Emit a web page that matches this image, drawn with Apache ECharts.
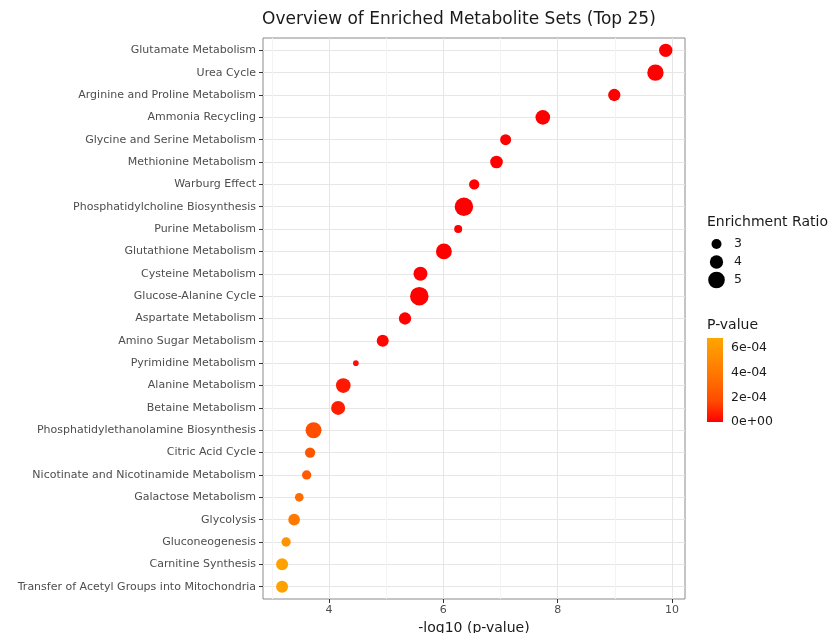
<!DOCTYPE html>
<html>
<head>
<meta charset="utf-8">
<script src="https://cdn.jsdelivr.net/npm/echarts@6/dist/echarts.min.js"></script>
<style>
html, body { margin: 0; padding: 0; background: #fff; }
#chart { width: 834px; height: 633px; }
</style>
</head>
<body>
<div id="chart"></div>
<script>
// metabolite sets, top to bottom
const pathways = [
  'Glutamate Metabolism',
  'Urea Cycle',
  'Arginine and Proline Metabolism',
  'Ammonia Recycling',
  'Glycine and Serine Metabolism',
  'Methionine Metabolism',
  'Warburg Effect',
  'Phosphatidylcholine Biosynthesis',
  'Purine Metabolism',
  'Glutathione Metabolism',
  'Cysteine Metabolism',
  'Glucose-Alanine Cycle',
  'Aspartate Metabolism',
  'Amino Sugar Metabolism',
  'Pyrimidine Metabolism',
  'Alanine Metabolism',
  'Betaine Metabolism',
  'Phosphatidylethanolamine Biosynthesis',
  'Citric Acid Cycle',
  'Nicotinate and Nicotinamide Metabolism',
  'Galactose Metabolism',
  'Glycolysis',
  'Gluconeogenesis',
  'Carnitine Synthesis',
  'Transfer of Acetyl Groups into Mitochondria'
];
// -log10(p-value)
const log10p = [
  9.89, 9.71, 8.99, 7.74, 7.09, 6.93, 6.54, 6.36, 6.26, 6.01,
  5.60, 5.58, 5.33, 4.94, 4.47, 4.25, 4.16, 3.73, 3.67, 3.61,
  3.48, 3.39, 3.25, 3.18, 3.18
];
// enrichment ratio
const enrichRatio = [
  4.0, 4.9, 3.7, 4.4, 3.3, 3.8, 3.1, 5.55, 2.4, 4.75,
  4.2, 5.55, 3.7, 3.6, 1.7, 4.4, 4.2, 4.8, 3.1, 2.8,
  2.6, 3.5, 2.8, 3.6, 3.6
];
const xTicks = [4, 6, 8, 10];
const xMinorTicks = [3, 5, 7, 9];
const sizeLegend = [3, 4, 5];
const pLegendTicks = [0, 2e-4, 4e-4, 6e-4];
const pLegendLabels = ['0e+00', '2e-04', '4e-04', '6e-04'];
const redOrange = ['#ff0000', '#ff4b00', '#ff6e00', '#ff8b00', '#ffa500'];
const pMax = 6.8e-4;

const FONT = 'DejaVu Sans';
const ratioToSize = (r) => r * 3.33;

const chart = echarts.init(document.getElementById('chart'));

const seriesData = pathways.map((name, i) => [log10p[i], i, Math.pow(10, -log10p[i]), enrichRatio[i], name]);

/* legend drawn by hand, ggplot style */
const buildLegend = () => {
  let items = [];
  items.push({
    type: 'text', left: 707, top: 215,
    style: { text: 'Enrichment Ratio', font: '14px "' + FONT + '"', fill: '#1a1a1a' }
  });
  const dotY = [244, 262, 280];
  sizeLegend.forEach((v, i) => {
    items.push({
      type: 'circle',
      shape: { cx: 716.5, cy: dotY[i], r: ratioToSize(v) / 2 },
      style: { fill: '#000' }
    });
    items.push({
      type: 'text', x: 734, y: dotY[i],
      style: { text: String(v), font: '12.5px "' + FONT + '"', fill: '#1a1a1a', verticalAlign: 'middle' }
    });
  });
  items.push({
    type: 'text', left: 707, top: 318,
    style: { text: 'P-value', font: '14px "' + FONT + '"', fill: '#1a1a1a' }
  });
  const barTop = 338, barH = 84;
  let stops = redOrange.map((c, i) => ({ offset: 1 - i / (redOrange.length - 1), color: c }));
  stops.reverse();
  items.push({
    type: 'rect',
    shape: { x: 707, y: barTop, width: 16, height: barH },
    style: { fill: new echarts.graphic.LinearGradient(0, 0, 0, 1, stops) }
  });
  pLegendTicks.forEach((v, i) => {
    const y = barTop + barH - v / pMax * barH;
    items.push({
      type: 'text', x: 731, y: y,
      style: { text: pLegendLabels[i], font: '12.5px "' + FONT + '"', fill: '#1a1a1a', verticalAlign: 'middle' }
    });
  });
  items.push({
    type: 'text', x: 424, y: -9,
    style: { text: '(A)', font: '22px "' + FONT + '"', fill: '#1a1a1a', align: 'center', verticalAlign: 'middle' }
  });
  return items;
};

const option = {
  animation: false,
  backgroundColor: '#fff',
  textStyle: { fontFamily: FONT },
  title: {
    text: 'Overview of Enriched Metabolite Sets (Top 25)',
    left: 262,
    top: 11,
    padding: 0,
    textStyle: { fontFamily: FONT, fontSize: 17, fontWeight: 'normal', color: '#1a1a1a' }
  },
  grid: {
    left: 263, right: 149, top: 38, bottom: 34,
    outerBoundsMode: 'none',
    containLabel: false,
    show: true, borderColor: '#8a8a8a', borderWidth: 1, backgroundColor: 'transparent'
  },
  xAxis: [
    {
      type: 'value',
      min: 2.846,
      max: 10.227,
      name: '-log10 (p-value)',
      nameLocation: 'middle',
      nameGap: 20,
      nameTextStyle: { fontFamily: FONT, fontSize: 14, color: '#1a1a1a' },
      axisLine: { show: false, onZero: false },
      axisTick: { show: true, length: 4, customValues: xTicks, lineStyle: { color: '#333' } },
      axisLabel: { customValues: xTicks, fontSize: 11, color: '#4d4d4d', margin: 6, fontFamily: FONT },
      splitLine: { show: true, lineStyle: { color: '#e6e6e6', width: 1 } }
    },
    {
      type: 'value',
      min: 2.846,
      max: 10.227,
      position: 'bottom',
      axisLine: { show: false, onZero: false },
      axisTick: { show: false, customValues: xMinorTicks },
      axisLabel: { show: false, customValues: xMinorTicks },
      splitLine: { show: true, lineStyle: { color: '#f3f3f3', width: 1 } }
    }
  ],
  yAxis: {
    type: 'value',
    inverse: true,
    min: -0.55,
    max: 24.55,
    axisLine: { show: false, onZero: false },
    axisTick: { show: true, length: 4, customValues: pathways.map((_, i) => i), lineStyle: { color: '#333' } },
    axisLabel: {
      customValues: pathways.map((_, i) => i),
      formatter: (v) => pathways[Math.round(v)],
      fontSize: 11, color: '#4d4d4d', margin: 7, fontFamily: FONT
    },
    splitLine: { show: true, lineStyle: { color: '#e6e6e6', width: 1 } }
  },
  visualMap: {
    show: false,
    type: 'continuous',
    dimension: 2,
    seriesIndex: 0,
    min: 0,
    max: pMax,
    inRange: { color: redOrange }
  },
  series: [
    {
      type: 'scatter',
      xAxisIndex: 0,
      data: seriesData,
      symbolSize: (val) => ratioToSize(val[3]),
      itemStyle: { opacity: 1 }
    }
  ],
  graphic: buildLegend()
};

chart.setOption(option);
</script>
</body>
</html>
